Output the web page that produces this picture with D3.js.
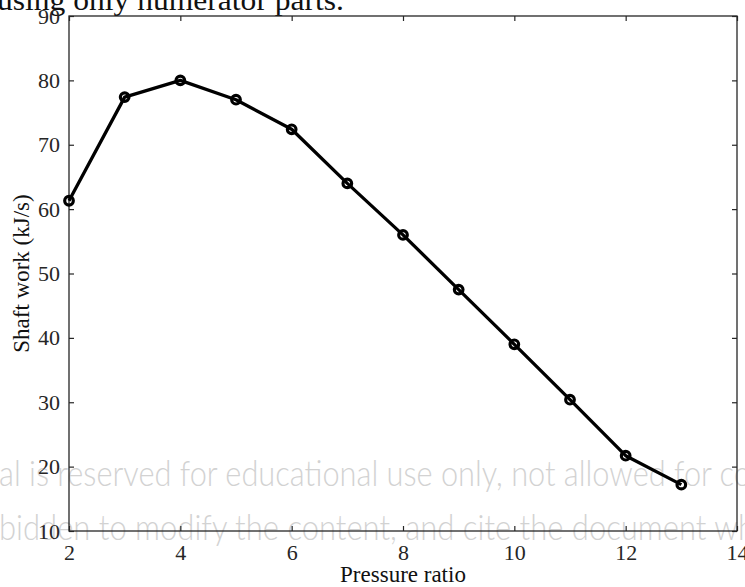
<!DOCTYPE html>
<html><head><meta charset="utf-8">
<script src="https://cdn.jsdelivr.net/npm/d3@7"></script>
<style>body{margin:0;background:#fff}svg{display:block}</style>
</head><body>
<script>
const pressureRatio = [2,3,4,5,6,7,8,9,10,11,12,13];
const shaftWork = [61.3,77.4,80.0,77.0,72.4,64.0,56.0,47.5,39.0,30.4,21.7,17.2];
const xTicks = [2,4,6,8,10,12,14];
const yTicks = [10,20,30,40,50,60,70,80,90];
const xLabel = "Pressure ratio";
const yLabel = "Shaft work (kJ/s)";
const topText = "using only numerator parts.";
const watermark = ["al is reserved for educational use only, not allowed for co",
                   "bidden to modify the content, and cite the document wh"];

const W=745,H=587;
const m={l:69,r:8,t:16,b:56};
const svg=d3.select("body").append("svg").attr("width",W).attr("height",H);
const x=d3.scaleLinear().domain([2,14]).range([m.l,W-m.r]);
const y=d3.scaleLinear().domain([10,90]).range([H-m.b,m.t]);
const axCol="#262626";
const serif="'Liberation Serif','Times New Roman',serif";

svg.append("text").attr("x",-3).attr("y",10).attr("font-family",serif)
  .attr("font-size",29).attr("fill","#111")
  .attr("textLength",347).attr("lengthAdjust","spacingAndGlyphs").text(topText);

// watermark (behind chart)
const wm=[{t:watermark[0],y:486,len:752},{t:watermark[1],y:540,len:756}];
svg.selectAll("text.wm").data(wm).join("text").attr("class","wm")
  .attr("x",-1).attr("y",d=>d.y).attr("font-family","Lato,'Open Sans',sans-serif")
  .attr("font-weight",300).attr("font-size",35).attr("fill","#d2d2d2")
  .attr("textLength",d=>d.len).attr("lengthAdjust","spacingAndGlyphs").text(d=>d.t);

const g=svg.append("g");
g.append("rect").attr("x",x(2)).attr("y",y(90)).attr("width",x(14)-x(2)).attr("height",y(10)-y(90))
  .attr("fill","none").attr("stroke",axCol).attr("stroke-width",1.3);

const xb=g.append("g").attr("transform",`translate(0,${y(10)})`)
  .call(d3.axisBottom(x).tickValues(xTicks).tickSize(-5).tickPadding(13));
const xt=g.append("g").attr("transform",`translate(0,${y(90)})`)
  .call(d3.axisTop(x).tickValues(xTicks).tickSize(-5).tickFormat(""));
const yl=g.append("g").attr("transform",`translate(${x(2)},0)`)
  .call(d3.axisLeft(y).tickValues(yTicks).tickSize(-5).tickPadding(9));
const yr=g.append("g").attr("transform",`translate(${x(14)},0)`)
  .call(d3.axisRight(y).tickValues(yTicks).tickSize(-5).tickFormat(""));
[xb,xt,yl,yr].forEach(a=>{
  a.select(".domain").remove();
  a.selectAll("line").attr("stroke",axCol).attr("stroke-width",1.2);
  a.selectAll("text").attr("font-family",serif).attr("font-size",22).attr("fill",axCol);
});

const data=pressureRatio.map((p,i)=>({p,v:shaftWork[i]}));
g.append("path").datum(data).attr("fill","none").attr("stroke","#000").attr("stroke-width",3.3)
  .attr("stroke-linejoin","round")
  .attr("d",d3.line().x(d=>x(d.p)).y(d=>y(d.v)));
g.selectAll("circle").data(data).join("circle").attr("cx",d=>x(d.p)).attr("cy",d=>y(d.v))
  .attr("r",4.3).attr("fill","none").attr("stroke","#000").attr("stroke-width",3.2);

svg.append("text").attr("x",(x(2)+x(14))/2).attr("y",582).attr("text-anchor","middle")
  .attr("font-family",serif).attr("font-size",23).attr("fill","#111").text(xLabel);
svg.append("text").attr("transform",`translate(29,${(y(10)+y(90))/2}) rotate(-90)`)
  .attr("text-anchor","middle").attr("font-family",serif).attr("font-size",23).attr("fill","#111").text(yLabel);
</script>
</body></html>
